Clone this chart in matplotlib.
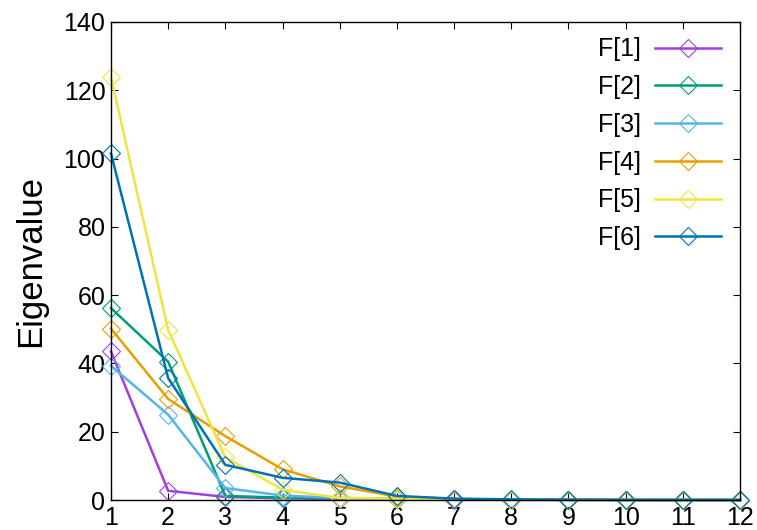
import matplotlib
matplotlib.use("Agg")
import matplotlib.pyplot as plt

plt.rcParams['font.family'] = ['Liberation Sans', 'DejaVu Sans']

x = list(range(1, 13))
labels = ["F[1]", "F[2]", "F[3]", "F[4]", "F[5]", "F[6]"]
F1 = [43.5, 2.7, 0.9, 0.5, 0.3, 0.2, 0.1, 0.05, 0.03, 0.02, 0.01, 0.01]
F2 = [56.2, 40.5, 1.2, 0.7, 0.5, 0.4, 0.2, 0.1, 0.05, 0.03, 0.02, 0.01]
F3 = [39.3, 25.0, 3.5, 1.3, 0.6, 0.4, 0.2, 0.1, 0.05, 0.03, 0.02, 0.01]
F4 = [50.2, 29.6, 18.7, 9.0, 4.0, 1.0, 0.3, 0.1, 0.05, 0.03, 0.02, 0.01]
F5 = [123.8, 49.8, 12.5, 3.0, 0.6, 0.4, 0.2, 0.1, 0.05, 0.03, 0.02, 0.01]
F6 = [101.5, 35.7, 10.3, 6.5, 5.1, 1.2, 0.4, 0.2, 0.1, 0.05, 0.03, 0.02]
series = [F1, F2, F3, F4, F5, F6]
colors = ["#a33fdf", "#009e73", "#56b4e9", "#e69f00", "#f0e442", "#0072b2"]

fig = plt.figure(figsize=(7.57, 5.30), dpi=100)
ax = fig.add_axes([0.1466, 0.0566, 0.8309, 0.9019])

for ys, c, lab in zip(series, colors, labels):
    ax.plot(x, ys, color=c, lw=1.8, marker='D', ms=9.5, mfc='none',
            mec=c, mew=0.8, label=lab, clip_on=False)

ax.set_xlim(1, 12)
ax.set_ylim(0, 140)
ax.set_xticks(x)
ax.set_yticks(range(0, 141, 20))
ax.tick_params(direction='in', length=5, width=0.8, top=True, right=True,
               labelsize=18, pad=4)
for s in ax.spines.values():
    s.set_linewidth(1.0)
ax.set_ylabel("Eigenvalue", fontsize=25, labelpad=12)

ax.legend(loc='upper right', bbox_to_anchor=(1.0, 1.007), frameon=False,
          markerfirst=False, fontsize=18,
          handlelength=2.65, handletextpad=0.55, labelspacing=0.55,
          borderaxespad=0.75, borderpad=0.0)

fig.savefig("out.png", dpi=100)
